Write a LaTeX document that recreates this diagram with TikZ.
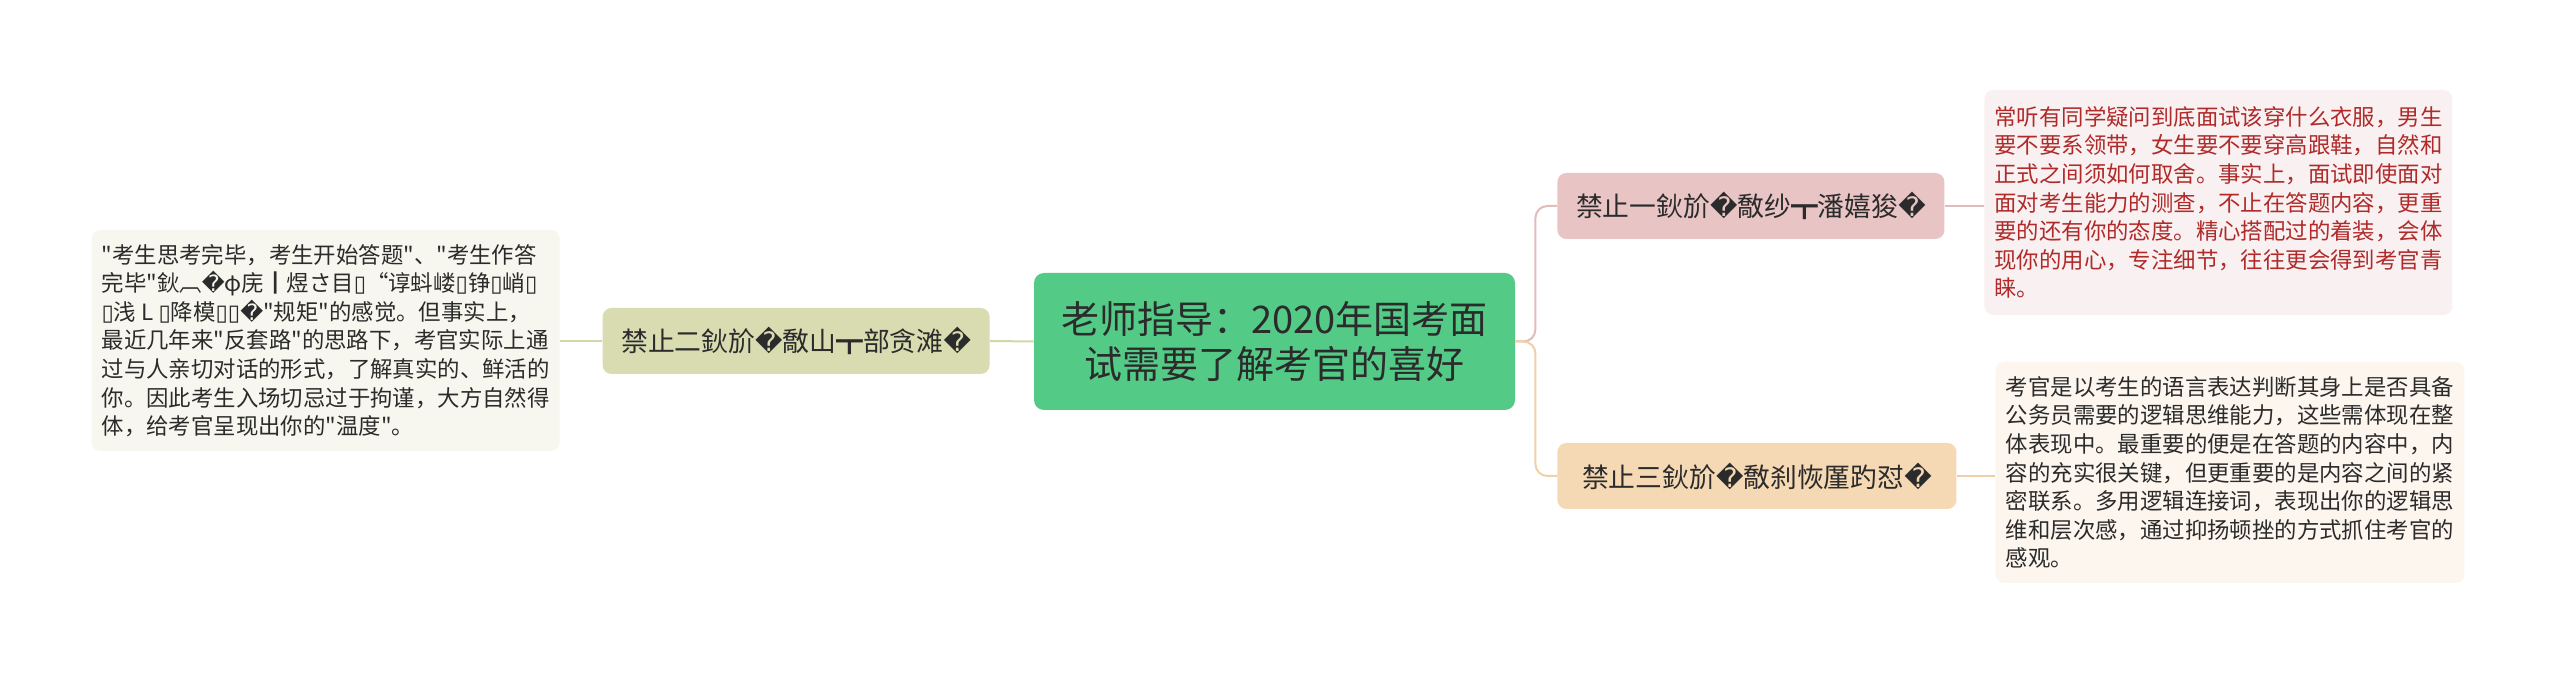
\documentclass[tikz,border=0pt]{standalone}
\usepackage{fontspec}
\setmainfont{Noto Sans CJK SC}
\newfontfamily\cjkfont{Noto Sans CJK SC}
\newfontfamily\djvfont{DejaVu Sans}
\usetikzlibrary{positioning}
\definecolor{mmroot}{HTML}{53CB87}
\definecolor{mmink}{HTML}{2B2B2B}
\definecolor{mmred}{HTML}{B02A2A}
\definecolor{mmolive}{HTML}{D8DCB0}
\definecolor{mmoliveL}{HTML}{F7F7EF}
\definecolor{mmoliveD}{HTML}{D3D7A6}
\definecolor{mmrose}{HTML}{E8C4C4}
\definecolor{mmroseL}{HTML}{F9F1F1}
\definecolor{mmroseD}{HTML}{E3BBBB}
\definecolor{mmtan}{HTML}{F5D8B4}
\definecolor{mmtanL}{HTML}{FDF6EE}
\definecolor{mmtanD}{HTML}{F1D0A9}
\tikzset{
  rootbox/.style={fill=mmroot,rounded corners=5pt,minimum width=240.5pt,minimum height=68.5pt,
              align=center,inner sep=0pt,text=mmink,font=\cjkfont\fontsize{19}{22.5}\selectfont},
  twigbox/.style={rounded corners=4.5pt,minimum height=33pt,inner xsep=7.5pt,inner ysep=0pt,
              text=mmink,font=\cjkfont\fontsize{13.4}{16}\selectfont},
  leafbox/.style={rounded corners=4.5pt,align=left,inner xsep=5pt,inner ysep=0pt,
              text=mmink,font=\cjkfont\fontsize{11.2}{14.3}\selectfont},
  link/.style={line width=1pt,rounded corners=6pt},
}
\newcommand{\qm}{{\djvfont\char"FFFD}}
\newcommand{\tofu}{{\djvfont\char"25AF}}

\begin{document}
\begin{tikzpicture}[x=0.5pt,y=-0.5pt]
  \useasboundingbox[fill=white] (0,0) rectangle (2560,683);

  % ---- root ----
  \node[rootbox] (root) at (1274.5,341.5) {老师指导：2020年国考面\\试需要了解考官的喜好};

  % ---- branches ----
  \node[twigbox,fill=mmolive,anchor=east,minimum width=193.5pt] (twoB) at (990,341)
    {禁止二鈥斺\qm{}敿山┳部贪滩\qm};
  \node[twigbox,fill=mmrose,anchor=west,minimum width=193.5pt] (oneB) at (1557,206)
    {禁止一鈥斺\qm{}敿纱┳潘嬉狻\qm};
  \node[twigbox,fill=mmtan,anchor=west,minimum width=199.5pt] (threeB) at (1557,476)
    {禁止三鈥斺\qm{}敿刹恢厪趵怼\qm};

  % ---- leaves ----
  \node[leafbox,fill=mmoliveL,anchor=east,minimum width=232pt,minimum height=110.5pt] (twoL) at (560,340.5)
    {"考生思考完毕，考生开始答题"、"考生作答\\
     完毕"鈥︹\qm{}φ庑┃煜さ目\tofu{}“谆蚪嵝\tofu{}铮\tofu{}峭\tofu\\
     \tofu{}浅 L \tofu{}降模\tofu\tofu\qm{}"规矩"的感觉。但事实上，\\
     最近几年来"反套路"的思路下，考官实际上通\\
     过与人亲切对话的形式，了解真实的、鲜活的\\
     你。因此考生入场切忌过于拘谨，大方自然得\\
     体，给考官呈现出你的"温度"。};
  \node[leafbox,fill=mmroseL,text=mmred,anchor=west,minimum width=234pt,minimum height=112.5pt] (oneL) at (1984,202.5)
    {常听有同学疑问到底面试该穿什么衣服，男生\\
     要不要系领带，女生要不要穿高跟鞋，自然和\\
     正式之间须如何取舍。事实上，面试即使面对\\
     面对考生能力的测查，不止在答题内容，更重\\
     要的还有你的态度。精心搭配过的着装，会体\\
     现你的用心，专注细节，往往更会得到考官青\\
     睐。};
  \node[leafbox,fill=mmtanL,anchor=west,minimum width=234.5pt,minimum height=110.5pt] (threeL) at (1995,472.5)
    {考官是以考生的语言表达判断其身上是否具备\\
     公务员需要的逻辑思维能力，这些需体现在整\\
     体表现中。最重要的便是在答题的内容中，内\\
     容的充实很关键，但更重要的是内容之间的紧\\
     密联系。多用逻辑连接词，表现出你的逻辑思\\
     维和层次感，通过抑扬顿挫的方式抓住考官的\\
     感观。};

  % ---- links ----
  \draw[link,draw=mmroseD] (root.east) -- ++(10pt,0) |- (oneB.west);
  \draw[link,draw=mmtanD] (root.east) -- ++(10pt,0) |- (threeB.west);
  \draw[link,draw=mmoliveD] (root.west) -- (twoB.east);
  \draw[link,draw=mmoliveD] (twoB.west) -- (twoL.east |- twoB.west);
  \draw[link,draw=mmroseD] (oneB.east) -- (oneL.west |- oneB.east);
  \draw[link,draw=mmtanD] (threeB.east) -- (threeL.west |- threeB.east);
\end{tikzpicture}
\end{document}
